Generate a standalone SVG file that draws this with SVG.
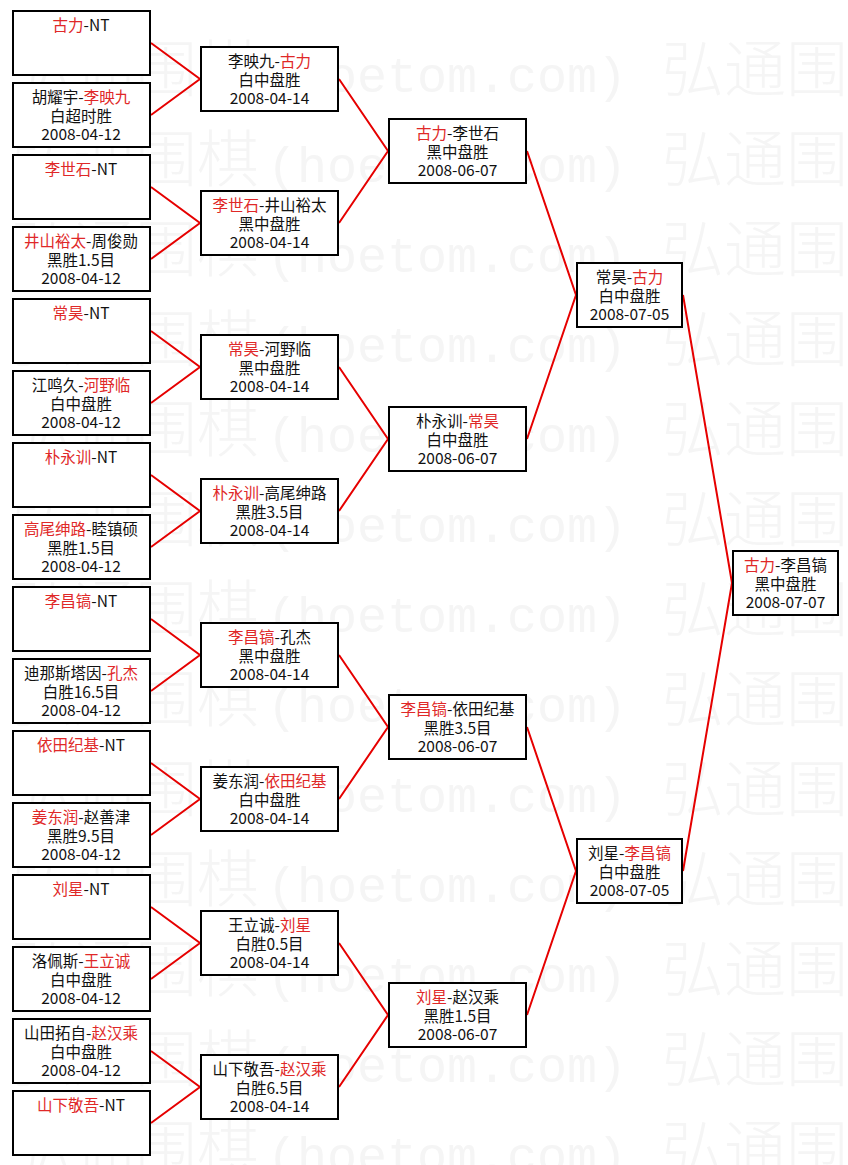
<svg xmlns="http://www.w3.org/2000/svg" width="848" height="1165" viewBox="0 0 848 1165">
<style>
.bg{fill:#fff}
.wm{font-family:"Noto Sans CJK SC",sans-serif;font-size:62px;font-weight:300;fill:#f5f5f5}
.wml{font-family:"Liberation Mono",monospace;font-size:50px;font-weight:400}
.box{fill:#fff;stroke:#000;stroke-width:2}
.t{font-family:"Noto Sans CJK SC","Noto Sans CJK JP",sans-serif;font-size:15.5px;fill:#111;text-anchor:middle}
.r{fill:#e02828}
.ln{fill:none;stroke:#e60000;stroke-width:2}
</style>
<rect class="bg" x="0" y="0" width="848" height="1165"/>
<g id="watermark">
<text class="wm" y="92"><tspan x="11">弘通围棋</tspan><tspan class="wml" x="267">(hoetom.com)</tspan><tspan x="662">弘通围</tspan></text>
<text class="wm" y="182"><tspan x="11">弘通围棋</tspan><tspan class="wml" x="267">(hoetom.com)</tspan><tspan x="662">弘通围</tspan></text>
<text class="wm" y="272"><tspan x="11">弘通围棋</tspan><tspan class="wml" x="267">(hoetom.com)</tspan><tspan x="662">弘通围</tspan></text>
<text class="wm" y="362"><tspan x="11">弘通围棋</tspan><tspan class="wml" x="267">(hoetom.com)</tspan><tspan x="662">弘通围</tspan></text>
<text class="wm" y="452"><tspan x="11">弘通围棋</tspan><tspan class="wml" x="267">(hoetom.com)</tspan><tspan x="662">弘通围</tspan></text>
<text class="wm" y="542"><tspan x="11">弘通围棋</tspan><tspan class="wml" x="267">(hoetom.com)</tspan><tspan x="662">弘通围</tspan></text>
<text class="wm" y="632"><tspan x="11">弘通围棋</tspan><tspan class="wml" x="267">(hoetom.com)</tspan><tspan x="662">弘通围</tspan></text>
<text class="wm" y="722"><tspan x="11">弘通围棋</tspan><tspan class="wml" x="267">(hoetom.com)</tspan><tspan x="662">弘通围</tspan></text>
<text class="wm" y="812"><tspan x="11">弘通围棋</tspan><tspan class="wml" x="267">(hoetom.com)</tspan><tspan x="662">弘通围</tspan></text>
<text class="wm" y="902"><tspan x="11">弘通围棋</tspan><tspan class="wml" x="267">(hoetom.com)</tspan><tspan x="662">弘通围</tspan></text>
<text class="wm" y="992"><tspan x="11">弘通围棋</tspan><tspan class="wml" x="267">(hoetom.com)</tspan><tspan x="662">弘通围</tspan></text>
<text class="wm" y="1082"><tspan x="11">弘通围棋</tspan><tspan class="wml" x="267">(hoetom.com)</tspan><tspan x="662">弘通围</tspan></text>
<text class="wm" y="1172"><tspan x="11">弘通围棋</tspan><tspan class="wml" x="267">(hoetom.com)</tspan><tspan x="662">弘通围</tspan></text>
</g>
<g id="connectors">
<path class="ln" d="M151,43L200,79L151,115"/>
<path class="ln" d="M151,187L200,223L151,259"/>
<path class="ln" d="M151,331L200,367L151,403"/>
<path class="ln" d="M151,475L200,511L151,547"/>
<path class="ln" d="M151,619L200,655L151,691"/>
<path class="ln" d="M151,763L200,799L151,835"/>
<path class="ln" d="M151,907L200,943L151,979"/>
<path class="ln" d="M151,1051L200,1087L151,1123"/>
<path class="ln" d="M339,79L388,151L339,223"/>
<path class="ln" d="M339,367L388,439L339,511"/>
<path class="ln" d="M339,655L388,727L339,799"/>
<path class="ln" d="M339,943L388,1015L339,1087"/>
<path class="ln" d="M527,151L576,295L527,439"/>
<path class="ln" d="M527,727L576,871L527,1015"/>
<path class="ln" d="M683,295L732,583L683,871"/>
</g>
<g id="r1-01"><rect class="box" x="13" y="11" width="137" height="64"/><text class="t" x="81" y="30.5"><tspan class="r">古力</tspan>-NT</text></g>
<g id="r1-02"><rect class="box" x="13" y="83" width="137" height="64"/><text class="t" x="81" y="102.5">胡耀宇-<tspan class="r">李映九</tspan></text><text class="t" x="81" y="122">白超时胜</text><text class="t" x="81" y="140">2008-04-12</text></g>
<g id="r1-03"><rect class="box" x="13" y="155" width="137" height="64"/><text class="t" x="81" y="174.5"><tspan class="r">李世石</tspan>-NT</text></g>
<g id="r1-04"><rect class="box" x="13" y="227" width="137" height="64"/><text class="t" x="81" y="246.5"><tspan class="r">井山裕太</tspan>-周俊勋</text><text class="t" x="81" y="266">黑胜1.5目</text><text class="t" x="81" y="284">2008-04-12</text></g>
<g id="r1-05"><rect class="box" x="13" y="299" width="137" height="64"/><text class="t" x="81" y="318.5"><tspan class="r">常昊</tspan>-NT</text></g>
<g id="r1-06"><rect class="box" x="13" y="371" width="137" height="64"/><text class="t" x="81" y="390.5">江鸣久-<tspan class="r">河野临</tspan></text><text class="t" x="81" y="410">白中盘胜</text><text class="t" x="81" y="428">2008-04-12</text></g>
<g id="r1-07"><rect class="box" x="13" y="443" width="137" height="64"/><text class="t" x="81" y="462.5"><tspan class="r">朴永训</tspan>-NT</text></g>
<g id="r1-08"><rect class="box" x="13" y="515" width="137" height="64"/><text class="t" x="81" y="534.5"><tspan class="r">高尾绅路</tspan>-睦镇硕</text><text class="t" x="81" y="554">黑胜1.5目</text><text class="t" x="81" y="572">2008-04-12</text></g>
<g id="r1-09"><rect class="box" x="13" y="587" width="137" height="64"/><text class="t" x="81" y="606.5"><tspan class="r">李昌镐</tspan>-NT</text></g>
<g id="r1-10"><rect class="box" x="13" y="659" width="137" height="64"/><text class="t" x="81" y="678.5">迪那斯塔因-<tspan class="r">孔杰</tspan></text><text class="t" x="81" y="698">白胜16.5目</text><text class="t" x="81" y="716">2008-04-12</text></g>
<g id="r1-11"><rect class="box" x="13" y="731" width="137" height="64"/><text class="t" x="81" y="750.5"><tspan class="r">依田纪基</tspan>-NT</text></g>
<g id="r1-12"><rect class="box" x="13" y="803" width="137" height="64"/><text class="t" x="81" y="822.5"><tspan class="r">姜东润</tspan>-赵善津</text><text class="t" x="81" y="842">黑胜9.5目</text><text class="t" x="81" y="860">2008-04-12</text></g>
<g id="r1-13"><rect class="box" x="13" y="875" width="137" height="64"/><text class="t" x="81" y="894.5"><tspan class="r">刘星</tspan>-NT</text></g>
<g id="r1-14"><rect class="box" x="13" y="947" width="137" height="64"/><text class="t" x="81" y="966.5">洛佩斯-<tspan class="r">王立诚</tspan></text><text class="t" x="81" y="986">白中盘胜</text><text class="t" x="81" y="1004">2008-04-12</text></g>
<g id="r1-15"><rect class="box" x="13" y="1019" width="137" height="64"/><text class="t" x="81" y="1038.5">山田拓自-<tspan class="r">赵汉乘</tspan></text><text class="t" x="81" y="1058">白中盘胜</text><text class="t" x="81" y="1076">2008-04-12</text></g>
<g id="r1-16"><rect class="box" x="13" y="1091" width="137" height="64"/><text class="t" x="81" y="1110.5"><tspan class="r">山下敬吾</tspan>-NT</text></g>
<g id="r2-1"><rect class="box" x="201" y="47" width="137" height="64"/><text class="t" x="269.5" y="66.5">李映九-<tspan class="r">古力</tspan></text><text class="t" x="269.5" y="86">白中盘胜</text><text class="t" x="269.5" y="104">2008-04-14</text></g>
<g id="r2-2"><rect class="box" x="201" y="191" width="137" height="64"/><text class="t" x="269.5" y="210.5"><tspan class="r">李世石</tspan>-井山裕太</text><text class="t" x="269.5" y="230">黑中盘胜</text><text class="t" x="269.5" y="248">2008-04-14</text></g>
<g id="r2-3"><rect class="box" x="201" y="335" width="137" height="64"/><text class="t" x="269.5" y="354.5"><tspan class="r">常昊</tspan>-河野临</text><text class="t" x="269.5" y="374">黑中盘胜</text><text class="t" x="269.5" y="392">2008-04-14</text></g>
<g id="r2-4"><rect class="box" x="201" y="479" width="137" height="64"/><text class="t" x="269.5" y="498.5"><tspan class="r">朴永训</tspan>-高尾绅路</text><text class="t" x="269.5" y="518">黑胜3.5目</text><text class="t" x="269.5" y="536">2008-04-14</text></g>
<g id="r2-5"><rect class="box" x="201" y="623" width="137" height="64"/><text class="t" x="269.5" y="642.5"><tspan class="r">李昌镐</tspan>-孔杰</text><text class="t" x="269.5" y="662">黑中盘胜</text><text class="t" x="269.5" y="680">2008-04-14</text></g>
<g id="r2-6"><rect class="box" x="201" y="767" width="137" height="64"/><text class="t" x="269.5" y="786.5">姜东润-<tspan class="r">依田纪基</tspan></text><text class="t" x="269.5" y="806">白中盘胜</text><text class="t" x="269.5" y="824">2008-04-14</text></g>
<g id="r2-7"><rect class="box" x="201" y="911" width="137" height="64"/><text class="t" x="269.5" y="930.5">王立诚-<tspan class="r">刘星</tspan></text><text class="t" x="269.5" y="950">白胜0.5目</text><text class="t" x="269.5" y="968">2008-04-14</text></g>
<g id="r2-8"><rect class="box" x="201" y="1055" width="137" height="64"/><text class="t" x="269.5" y="1074.5">山下敬吾-<tspan class="r">赵汉乘</tspan></text><text class="t" x="269.5" y="1094">白胜6.5目</text><text class="t" x="269.5" y="1112">2008-04-14</text></g>
<g id="r3-1"><rect class="box" x="389" y="119" width="137" height="64"/><text class="t" x="457.5" y="138.5"><tspan class="r">古力</tspan>-李世石</text><text class="t" x="457.5" y="158">黑中盘胜</text><text class="t" x="457.5" y="176">2008-06-07</text></g>
<g id="r3-2"><rect class="box" x="389" y="407" width="137" height="64"/><text class="t" x="457.5" y="426.5">朴永训-<tspan class="r">常昊</tspan></text><text class="t" x="457.5" y="446">白中盘胜</text><text class="t" x="457.5" y="464">2008-06-07</text></g>
<g id="r3-3"><rect class="box" x="389" y="695" width="137" height="64"/><text class="t" x="457.5" y="714.5"><tspan class="r">李昌镐</tspan>-依田纪基</text><text class="t" x="457.5" y="734">黑胜3.5目</text><text class="t" x="457.5" y="752">2008-06-07</text></g>
<g id="r3-4"><rect class="box" x="389" y="983" width="137" height="64"/><text class="t" x="457.5" y="1002.5"><tspan class="r">刘星</tspan>-赵汉乘</text><text class="t" x="457.5" y="1022">黑胜1.5目</text><text class="t" x="457.5" y="1040">2008-06-07</text></g>
<g id="r4-1"><rect class="box" x="577" y="263" width="105" height="64"/><text class="t" x="629.5" y="282.5">常昊-<tspan class="r">古力</tspan></text><text class="t" x="629.5" y="302">白中盘胜</text><text class="t" x="629.5" y="320">2008-07-05</text></g>
<g id="r4-2"><rect class="box" x="577" y="839" width="105" height="64"/><text class="t" x="629.5" y="858.5">刘星-<tspan class="r">李昌镐</tspan></text><text class="t" x="629.5" y="878">白中盘胜</text><text class="t" x="629.5" y="896">2008-07-05</text></g>
<g id="final"><rect class="box" x="733" y="551" width="105" height="64"/><text class="t" x="785.5" y="570.5"><tspan class="r">古力</tspan>-李昌镐</text><text class="t" x="785.5" y="590">黑中盘胜</text><text class="t" x="785.5" y="608">2008-07-07</text></g>
</svg>
